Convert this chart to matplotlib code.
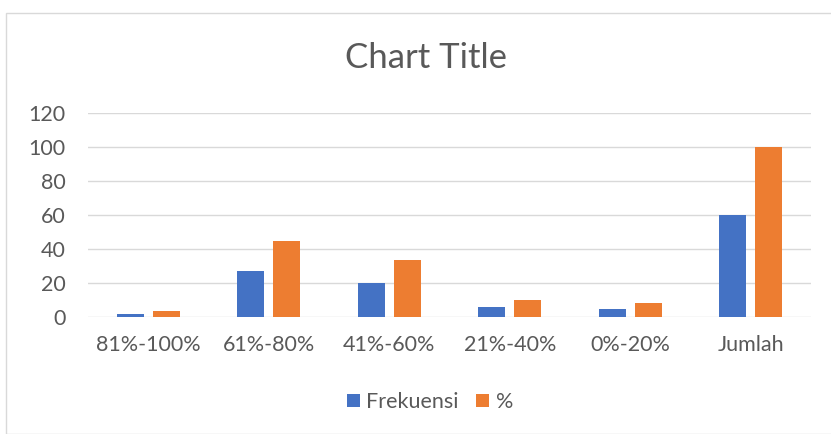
import numpy as np
import matplotlib.pyplot as plt
from matplotlib.patches import Rectangle

categories = ['81%-100%', '61%-80%', '41%-60%', '21%-40%', '0%-20%', 'Jumlah']
frekuensi = [2, 27, 20, 6, 5, 60]
persen = [3.33, 45, 33.33, 10, 8.33, 100]

plt.rcParams['font.family'] = ['Lato', 'DejaVu Sans']

fig = plt.figure(figsize=(8.31, 4.34), dpi=100)
# chart border
fig.patches.append(Rectangle((6 / 831, 0), 1, 1 - 13 / 434, transform=fig.transFigure,
                             fill=False, edgecolor='#d9d9d9', linewidth=1))

ax = fig.add_axes([88 / 831, 1 - 317 / 434, 723 / 831, 204 / 434])
x = np.arange(len(categories))
w = 0.225
ax.bar(x - 0.15, frekuensi, w, color='#4472c4', label='Frekuensi', zorder=3)
ax.bar(x + 0.15, persen, w, color='#ed7d31', label='%', zorder=3)

ax.set_xlim(-0.5, len(categories) - 0.5)
ax.set_ylim(0, 120)
ax.set_yticks(range(0, 121, 20))
ax.set_xticks(x)
ax.set_xticklabels(categories)
ax.yaxis.grid(True, color='#d9d9d9', linewidth=1, zorder=0)
for s in ax.spines.values():
    s.set_visible(False)
ax.tick_params(length=0, labelsize=15.5, colors='#595959')
ax.tick_params(axis='x', pad=13)
ax.tick_params(axis='y', pad=16)

fig.text(0.513, 1 - 58 / 434, 'Chart Title', ha='center', va='center', fontsize=25, color='#595959')
fig.legend(loc='center', bbox_to_anchor=(430 / 831, 1 - 402 / 434), ncol=2, frameon=False,
           fontsize=15.5, labelcolor='#595959', handlelength=0.6, handleheight=0.6,
           columnspacing=0.8, handletextpad=0.3)

fig.savefig('out.png', dpi=100)
